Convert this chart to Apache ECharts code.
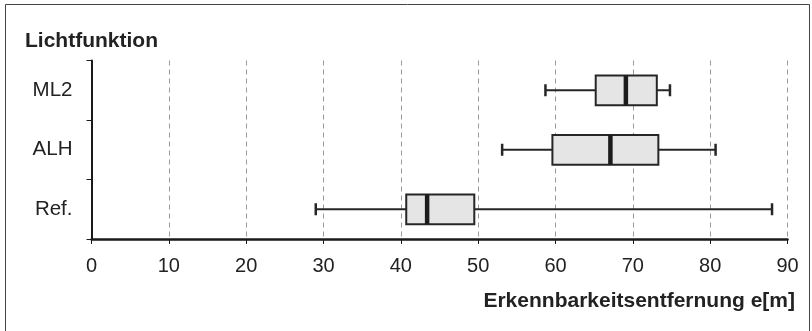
<!DOCTYPE html>
<html>
<head>
<meta charset="utf-8">
<script src="https://cdn.jsdelivr.net/npm/echarts@6/dist/echarts.min.js"></script>
<style>html,body{margin:0;padding:0;background:#fff;}#c{width:812px;height:331px;}</style>
</head>
<body>
<div id="c"></div>
<script>
var categories = ['Ref.', 'ALH', 'ML2'];
var lowValues = [29.0, 53.1, 58.7];
var q1Values = [40.7, 59.6, 65.2];
var medianValues = [43.4, 67.1, 69.1];
var q3Values = [49.5, 73.3, 73.1];
var highValues = [88.0, 80.7, 74.8];
var xTicks = [0, 10, 20, 30, 40, 50, 60, 70, 80, 90];

var FONT = '"Liberation Sans", Arial, Helvetica, sans-serif';
var chart = echarts.init(document.getElementById('c'), null, {renderer: 'canvas'});

var boxData = categories.map(function (c, i) {
  return [i, lowValues[i], q1Values[i], medianValues[i], q3Values[i], highValues[i]];
});

function renderBox(params, api) {
  var ci = api.value(0);
  var pLow = api.coord([api.value(1), ci]);
  var pQ1 = api.coord([api.value(2), ci]);
  var pMed = api.coord([api.value(3), ci]);
  var pQ3 = api.coord([api.value(4), ci]);
  var pHigh = api.coord([api.value(5), ci]);
  var band = api.size([0, 1])[1];
  var h = band * 0.5;
  var y = pMed[1];
  var capH = 12;
  var stroke = '#262626';
  return {
    type: 'group',
    children: [
      {type: 'line', shape: {x1: pLow[0], y1: y, x2: pQ1[0], y2: y}, style: {stroke: stroke, lineWidth: 2}},
      {type: 'line', shape: {x1: pQ3[0], y1: y, x2: pHigh[0], y2: y}, style: {stroke: stroke, lineWidth: 2}},
      {type: 'line', shape: {x1: pLow[0], y1: y - capH / 2, x2: pLow[0], y2: y + capH / 2}, style: {stroke: stroke, lineWidth: 2.5}},
      {type: 'line', shape: {x1: pHigh[0], y1: y - capH / 2, x2: pHigh[0], y2: y + capH / 2}, style: {stroke: stroke, lineWidth: 2.5}},
      {type: 'rect', shape: {x: pQ1[0], y: y - h / 2, width: pQ3[0] - pQ1[0], height: h}, style: {fill: '#e5e5e5', stroke: stroke, lineWidth: 2}},
      {type: 'rect', shape: {x: pMed[0] - 2.25, y: y - h / 2, width: 4.5, height: h}, style: {fill: '#1c1c1c'}}
    ]
  };
}

chart.setOption({
  animation: false,
  backgroundColor: '#ffffff',
  grid: {left: 91.5, right: 24.5, top: 60.5, bottom: 92, containLabel: false},
  xAxis: {
    type: 'value', min: 0, max: 90, interval: 10,
    axisLine: {show: true, onZero: false, lineStyle: {color: '#1a1a1a', width: 2.5}},
    axisTick: {show: true, length: 5, lineStyle: {color: '#1a1a1a', width: 1}},
    axisLabel: {color: '#222', fontFamily: FONT, fontSize: 20, margin: 17,
      formatter: function (v) { return xTicks.indexOf(v) >= 0 ? String(v) : ''; }},
    splitLine: {show: true, lineStyle: {color: '#9a9a9a', width: 1, type: [5, 4]}}
  },
  yAxis: {
    type: 'category', data: categories,
    axisLine: {show: true, lineStyle: {color: '#1a1a1a', width: 2}},
    axisTick: {show: true, length: 5, lineStyle: {color: '#1a1a1a', width: 1}},
    axisLabel: {color: '#222', fontFamily: FONT, fontSize: 20.5, margin: 19},
    splitLine: {show: false}
  },
  series: [{
    type: 'custom',
    renderItem: renderBox,
    encode: {x: [1, 2, 3, 4, 5], y: 0},
    data: boxData
  }],
  graphic: [
    {type: 'rect', shape: {x: 5.5, y: 4.5, width: 804, height: 340}, style: {fill: null, stroke: '#444', lineWidth: 1}, silent: true},
    {type: 'text', left: 25, top: 31, style: {text: 'Lichtfunktion', fontFamily: FONT, fontWeight: 'bold', fontSize: 21, fill: '#222'}},
    {type: 'text', right: 17, top: 291, style: {text: 'Erkennbarkeitsentfernung e[m]', fontFamily: FONT, fontWeight: 'bold', fontSize: 21, fill: '#222'}}
  ]
});
</script>
</body>
</html>
